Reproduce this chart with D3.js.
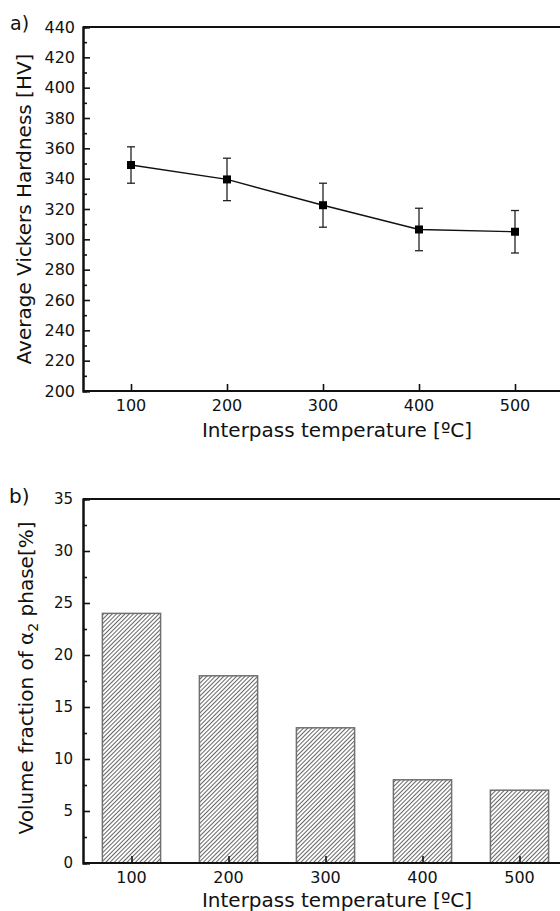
<!DOCTYPE html>
<html><head><meta charset="utf-8">
<script src="https://cdn.jsdelivr.net/npm/d3@7/dist/d3.min.js"></script>
<style>
html,body{margin:0;padding:0;background:#fff;}
text{font-family:"DejaVu Sans",Verdana,sans-serif;fill:#111;}
</style></head>
<body>
<svg id="c" width="560" height="911"></svg>
<script>
// ---- data ----
const temps = [100, 200, 300, 400, 500];
const hardness = [349, 339.5, 322.5, 306.5, 305];
const hardnessErr = [12, 14, 14.5, 14, 14];
const alpha2Fraction = [24, 18, 13, 8, 7];
const hardnessTicks = [200, 220, 240, 260, 280, 300, 320, 340, 360, 380, 400, 420, 440];
const hardnessMinor = [210, 230, 250, 270, 290, 310, 330, 350, 370, 390, 410, 430];
const fractionTicks = [0, 5, 10, 15, 20, 25, 30, 35];
const fractionMinor = [2.5, 7.5, 12.5, 17.5, 22.5, 27.5, 32.5];
const tempTicks = [100, 200, 300, 400, 500];

const svg = d3.select("#c");

// hatch pattern
const defs = svg.append("defs");
const pat = defs.append("pattern").attr("id", "hatch")
  .attr("patternUnits", "userSpaceOnUse").attr("width", 3).attr("height", 3)
  .attr("patternTransform", "rotate(45)");
pat.append("rect").attr("width", 3).attr("height", 3).attr("fill", "#fff");
pat.append("line").attr("x1", 0.5).attr("y1", 0).attr("x2", 0.5).attr("y2", 3)
  .attr("stroke", "#555").attr("stroke-width", 0.9);

// ---------- chart a ----------
const A = {left: 83, top: 27, bottom: 391};
const xa = d3.scaleLinear().domain([50, 550]).range([A.left, A.left + 480]);
const ya = d3.scaleLinear().domain([200, 440]).range([A.bottom, A.top]);

const ga = svg.append("g");
ga.append("line").attr("x1", A.left).attr("x2", xa(550)).attr("y1", A.top).attr("y2", A.top)
  .attr("stroke", "#111").attr("stroke-width", 2);

const yAxA = ga.append("g").attr("transform", `translate(${A.left},0)`)
  .call(d3.axisRight(ya).tickValues(hardnessTicks).tickSize(7).tickFormat(""));
yAxA.append("g").call(d3.axisRight(ya).tickValues(hardnessMinor).tickSize(4).tickFormat(""));
yAxA.selectAll("path").attr("stroke", "#111").attr("stroke-width", 2);
yAxA.selectAll("line").attr("stroke", "#111").attr("stroke-width", 1.6);
ga.selectAll(".ylabA").data(hardnessTicks).join("text")
  .attr("x", A.left - 8).attr("y", d => ya(d)).attr("dy", "0.36em")
  .attr("text-anchor", "end").style("font-size", "16px").text(d => d);

const xAxA = ga.append("g").attr("transform", `translate(0,${A.bottom})`)
  .call(d3.axisTop(xa).tickValues(tempTicks).tickSize(7).tickFormat(""));
xAxA.select("path").attr("stroke", "#111").attr("stroke-width", 2).attr("d", `M${A.left},0H${xa(550)}`);
xAxA.selectAll("line").attr("stroke", "#111").attr("stroke-width", 1.6);
ga.selectAll(".xlabA").data(tempTicks).join("text")
  .attr("x", d => xa(d)).attr("y", A.bottom + 20)
  .attr("text-anchor", "middle").style("font-size", "16px").text(d => d);

// error bars
const eb = ga.append("g").attr("stroke", "#222").attr("stroke-width", 1.3);
temps.forEach((t, i) => {
  const x = xa(t), y1 = ya(hardness[i] + hardnessErr[i]), y2 = ya(hardness[i] - hardnessErr[i]);
  eb.append("line").attr("x1", x).attr("x2", x).attr("y1", y1).attr("y2", y2);
  eb.append("line").attr("x1", x - 4).attr("x2", x + 4).attr("y1", y1).attr("y2", y1);
  eb.append("line").attr("x1", x - 4).attr("x2", x + 4).attr("y1", y2).attr("y2", y2);
});
ga.append("path").datum(temps.map((t, i) => [t, hardness[i]]))
  .attr("fill", "none").attr("stroke", "#111").attr("stroke-width", 1.4)
  .attr("d", d3.line().x(d => xa(d[0])).y(d => ya(d[1])));
ga.selectAll(".mk").data(temps.map((t, i) => [t, hardness[i]])).join("rect")
  .attr("x", d => xa(d[0]) - 4).attr("y", d => ya(d[1]) - 4)
  .attr("width", 8).attr("height", 8).attr("fill", "#000");

ga.append("text").attr("x", 10).attr("y", 30).style("font-size", "19px").text("a)");
ga.append("text").attr("transform", `translate(31,${(A.top + A.bottom) / 2}) rotate(-90)`)
  .attr("text-anchor", "middle").style("font-size", "20px").text("Average Vickers Hardness [HV]");
ga.append("text").attr("x", 337).attr("y", 437).attr("text-anchor", "middle")
  .style("font-size", "20px").text("Interpass temperature [ºC]");

// ---------- chart b ----------
const B = {left: 83, top: 499, bottom: 863};
const xb = d3.scaleLinear().domain([50, 550]).range([B.left, B.left + 485]);
const yb = d3.scaleLinear().domain([0, 35]).range([B.bottom, B.top]);
const gb = svg.append("g");

gb.append("line").attr("x1", B.left).attr("x2", xb(550)).attr("y1", B.top).attr("y2", B.top)
  .attr("stroke", "#111").attr("stroke-width", 2);

const bw = xb(110) - xb(50);
gb.selectAll(".bar").data(temps.map((t, i) => [t, alpha2Fraction[i]])).join("rect")
  .attr("x", d => xb(d[0]) - bw / 2).attr("y", d => yb(d[1]))
  .attr("width", bw).attr("height", d => yb(0) - yb(d[1]))
  .attr("fill", "url(#hatch)").attr("stroke", "#707070").attr("stroke-width", 1.5);

const yAxB = gb.append("g").attr("transform", `translate(${B.left},0)`)
  .call(d3.axisRight(yb).tickValues(fractionTicks).tickSize(7).tickFormat(""));
yAxB.append("g").call(d3.axisRight(yb).tickValues(fractionMinor).tickSize(4).tickFormat(""));
yAxB.selectAll("path").attr("stroke", "#111").attr("stroke-width", 2);
yAxB.selectAll("line").attr("stroke", "#111").attr("stroke-width", 1.6);
gb.selectAll(".ylabB").data(fractionTicks).join("text")
  .attr("x", B.left - 10).attr("y", d => yb(d)).attr("dy", "0.36em")
  .attr("text-anchor", "end").style("font-size", "15px").text(d => d);

const xAxB = gb.append("g").attr("transform", `translate(0,${B.bottom})`)
  .call(d3.axisTop(xb).tickValues(tempTicks).tickSize(7).tickFormat(""));
xAxB.select("path").attr("stroke", "#111").attr("stroke-width", 2).attr("d", `M${B.left},0H${xb(550)}`);
xAxB.selectAll("line").attr("stroke", "#111").attr("stroke-width", 1.6);
gb.selectAll(".xlabB").data(tempTicks).join("text")
  .attr("x", d => xb(d)).attr("y", B.bottom + 20)
  .attr("text-anchor", "middle").style("font-size", "16px").text(d => d);

gb.append("text").attr("x", 9).attr("y", 503).style("font-size", "20px").text("b)");
const yt = gb.append("text").attr("transform", `translate(33,${(B.top + B.bottom) / 2 - 3}) rotate(-90)`)
  .attr("text-anchor", "middle").style("font-size", "20px");
yt.append("tspan").text("Volume fraction of α");
yt.append("tspan").attr("dy", 5).style("font-size", "14px").text("2");
yt.append("tspan").attr("dy", -5).text(" phase[%]");
gb.append("text").attr("x", 337).attr("y", 907).attr("text-anchor", "middle")
  .style("font-size", "20px").text("Interpass temperature [ºC]");
</script>
</body></html>
